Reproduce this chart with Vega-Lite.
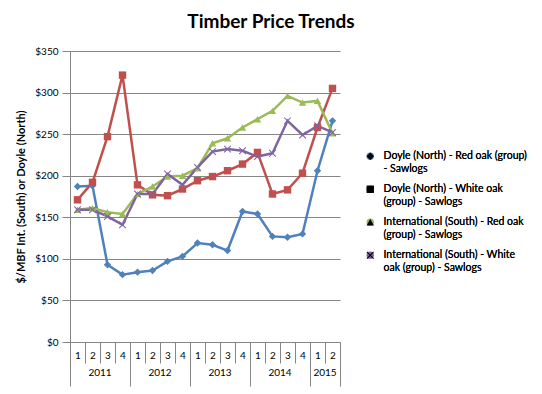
{
  "$schema": "https://vega.github.io/schema/vega-lite/v6.json",
  "width": 270,
  "height": 291,
  "autosize": {"type": "none"},
  "padding": {"left": 70, "top": 51, "right": 202, "bottom": 52},
  "title": {"text": "Timber Price Trends", "anchor": "middle", "frame": "group", "dx": 66, "font": "Lato", "fontSize": 19, "fontWeight": "bold", "color": "#000000", "offset": 14},
  "data": {"values": [
    {"q": "2011-1", "series": "Doyle (North) - Red oak (group) - Sawlogs", "price": 187},
    {"q": "2011-2", "series": "Doyle (North) - Red oak (group) - Sawlogs", "price": 188},
    {"q": "2011-3", "series": "Doyle (North) - Red oak (group) - Sawlogs", "price": 93},
    {"q": "2011-4", "series": "Doyle (North) - Red oak (group) - Sawlogs", "price": 81},
    {"q": "2012-1", "series": "Doyle (North) - Red oak (group) - Sawlogs", "price": 84},
    {"q": "2012-2", "series": "Doyle (North) - Red oak (group) - Sawlogs", "price": 86},
    {"q": "2012-3", "series": "Doyle (North) - Red oak (group) - Sawlogs", "price": 97},
    {"q": "2012-4", "series": "Doyle (North) - Red oak (group) - Sawlogs", "price": 103},
    {"q": "2013-1", "series": "Doyle (North) - Red oak (group) - Sawlogs", "price": 119},
    {"q": "2013-2", "series": "Doyle (North) - Red oak (group) - Sawlogs", "price": 117},
    {"q": "2013-3", "series": "Doyle (North) - Red oak (group) - Sawlogs", "price": 110},
    {"q": "2013-4", "series": "Doyle (North) - Red oak (group) - Sawlogs", "price": 157},
    {"q": "2014-1", "series": "Doyle (North) - Red oak (group) - Sawlogs", "price": 154},
    {"q": "2014-2", "series": "Doyle (North) - Red oak (group) - Sawlogs", "price": 127},
    {"q": "2014-3", "series": "Doyle (North) - Red oak (group) - Sawlogs", "price": 126},
    {"q": "2014-4", "series": "Doyle (North) - Red oak (group) - Sawlogs", "price": 130},
    {"q": "2015-1", "series": "Doyle (North) - Red oak (group) - Sawlogs", "price": 206},
    {"q": "2015-2", "series": "Doyle (North) - Red oak (group) - Sawlogs", "price": 266},
    {"q": "2011-1", "series": "Doyle (North) - White oak (group) - Sawlogs", "price": 171},
    {"q": "2011-2", "series": "Doyle (North) - White oak (group) - Sawlogs", "price": 192},
    {"q": "2011-3", "series": "Doyle (North) - White oak (group) - Sawlogs", "price": 247},
    {"q": "2011-4", "series": "Doyle (North) - White oak (group) - Sawlogs", "price": 321},
    {"q": "2012-1", "series": "Doyle (North) - White oak (group) - Sawlogs", "price": 189},
    {"q": "2012-2", "series": "Doyle (North) - White oak (group) - Sawlogs", "price": 177},
    {"q": "2012-3", "series": "Doyle (North) - White oak (group) - Sawlogs", "price": 176},
    {"q": "2012-4", "series": "Doyle (North) - White oak (group) - Sawlogs", "price": 184},
    {"q": "2013-1", "series": "Doyle (North) - White oak (group) - Sawlogs", "price": 194},
    {"q": "2013-2", "series": "Doyle (North) - White oak (group) - Sawlogs", "price": 199},
    {"q": "2013-3", "series": "Doyle (North) - White oak (group) - Sawlogs", "price": 206},
    {"q": "2013-4", "series": "Doyle (North) - White oak (group) - Sawlogs", "price": 214},
    {"q": "2014-1", "series": "Doyle (North) - White oak (group) - Sawlogs", "price": 228},
    {"q": "2014-2", "series": "Doyle (North) - White oak (group) - Sawlogs", "price": 178},
    {"q": "2014-3", "series": "Doyle (North) - White oak (group) - Sawlogs", "price": 183},
    {"q": "2014-4", "series": "Doyle (North) - White oak (group) - Sawlogs", "price": 203},
    {"q": "2015-1", "series": "Doyle (North) - White oak (group) - Sawlogs", "price": 258},
    {"q": "2015-2", "series": "Doyle (North) - White oak (group) - Sawlogs", "price": 305},
    {"q": "2011-1", "series": "International (South) - Red oak (group) - Sawlogs", "price": 159},
    {"q": "2011-2", "series": "International (South) - Red oak (group) - Sawlogs", "price": 161},
    {"q": "2011-3", "series": "International (South) - Red oak (group) - Sawlogs", "price": 156},
    {"q": "2011-4", "series": "International (South) - Red oak (group) - Sawlogs", "price": 154},
    {"q": "2012-1", "series": "International (South) - Red oak (group) - Sawlogs", "price": 178},
    {"q": "2012-2", "series": "International (South) - Red oak (group) - Sawlogs", "price": 187},
    {"q": "2012-3", "series": "International (South) - Red oak (group) - Sawlogs", "price": 199},
    {"q": "2012-4", "series": "International (South) - Red oak (group) - Sawlogs", "price": 200},
    {"q": "2013-1", "series": "International (South) - Red oak (group) - Sawlogs", "price": 209},
    {"q": "2013-2", "series": "International (South) - Red oak (group) - Sawlogs", "price": 239},
    {"q": "2013-3", "series": "International (South) - Red oak (group) - Sawlogs", "price": 245},
    {"q": "2013-4", "series": "International (South) - Red oak (group) - Sawlogs", "price": 258},
    {"q": "2014-1", "series": "International (South) - Red oak (group) - Sawlogs", "price": 268},
    {"q": "2014-2", "series": "International (South) - Red oak (group) - Sawlogs", "price": 278},
    {"q": "2014-3", "series": "International (South) - Red oak (group) - Sawlogs", "price": 296},
    {"q": "2014-4", "series": "International (South) - Red oak (group) - Sawlogs", "price": 288},
    {"q": "2015-1", "series": "International (South) - Red oak (group) - Sawlogs", "price": 290},
    {"q": "2015-2", "series": "International (South) - Red oak (group) - Sawlogs", "price": 251},
    {"q": "2011-1", "series": "International (South) - White oak (group) - Sawlogs", "price": 159},
    {"q": "2011-2", "series": "International (South) - White oak (group) - Sawlogs", "price": 159},
    {"q": "2011-3", "series": "International (South) - White oak (group) - Sawlogs", "price": 151},
    {"q": "2011-4", "series": "International (South) - White oak (group) - Sawlogs", "price": 141},
    {"q": "2012-1", "series": "International (South) - White oak (group) - Sawlogs", "price": 178},
    {"q": "2012-2", "series": "International (South) - White oak (group) - Sawlogs", "price": 178},
    {"q": "2012-3", "series": "International (South) - White oak (group) - Sawlogs", "price": 202},
    {"q": "2012-4", "series": "International (South) - White oak (group) - Sawlogs", "price": 189},
    {"q": "2013-1", "series": "International (South) - White oak (group) - Sawlogs", "price": 210},
    {"q": "2013-2", "series": "International (South) - White oak (group) - Sawlogs", "price": 229},
    {"q": "2013-3", "series": "International (South) - White oak (group) - Sawlogs", "price": 232},
    {"q": "2013-4", "series": "International (South) - White oak (group) - Sawlogs", "price": 230},
    {"q": "2014-1", "series": "International (South) - White oak (group) - Sawlogs", "price": 223},
    {"q": "2014-2", "series": "International (South) - White oak (group) - Sawlogs", "price": 227},
    {"q": "2014-3", "series": "International (South) - White oak (group) - Sawlogs", "price": 266},
    {"q": "2014-4", "series": "International (South) - White oak (group) - Sawlogs", "price": 249},
    {"q": "2015-1", "series": "International (South) - White oak (group) - Sawlogs", "price": 260},
    {"q": "2015-2", "series": "International (South) - White oak (group) - Sawlogs", "price": 252}
  ]},
  "layer": [
    {
      "mark": {"type": "line", "strokeWidth": 2.5},
      "encoding": {
        "x": {"field": "q", "type": "ordinal", "bandPosition": 0.5,
          "scale": {"type": "band", "paddingInner": 0, "paddingOuter": 0},
          "axis": {"orient": "bottom", "title": null, "tickBand": "extent", "grid": false, "tickSize": 21,
            "tickColor": "#868686", "domainColor": "#868686", "labelExpr": "isString(datum.value) ? slice(datum.value, 5) : ''", "labelAngle": 0,
            "labelBaseline": "middle", "labelPadding": -7.5, "labelFont": "Lato", "labelFontSize": 10, "labelColor": "#000000",
            "labelOverlap": false, "labelFlush": false, "labelBound": false}},
        "y": {"field": "price", "type": "quantitative", "scale": {"domain": [0, 350]},
          "axis": {"title": "$/MBF Int. (South) or Doyle (North)", "values": [0, 50, 100, 150, 200, 250, 300, 350], "format": "$.0f",
            "grid": true, "gridColor": "#868686", "domainColor": "#868686", "tickColor": "#868686", "tickSize": 8, "labelPadding": 4,
            "labelFont": "Lato", "labelFontSize": 10, "labelColor": "#000000", "titleFont": "Lato", "titleFontSize": 11, "titleFontWeight": "bold",
            "titleColor": "#000000", "titleX": -49, "titleY": 145.5, "titleAngle": 270, "titleAlign": "center", "titleBaseline": "middle"}},
        "color": {"field": "series", "type": "nominal",
          "scale": {"range": ["#4F81BD", "#C0504D", "#9BBB59", "#8064A2"]}}
      }
    },
    {
      "mark": {"type": "point", "filled": true, "size": 55, "opacity": 1},
      "encoding": {
        "x": {"field": "q", "type": "ordinal", "bandPosition": 0.5,
          "scale": {"type": "band", "paddingInner": 0, "paddingOuter": 0},
          "axis": {"orient": "bottom", "title": null, "values": ["2011-1", "2011-4", "2012-4", "2013-4", "2014-4", "2015-2"], "tickBand": "extent",
            "domain": false, "labels": false, "grid": false, "tickSize": 44, "tickColor": "#868686",
            "tickOpacity": {"condition": {"test": "datum.value == '2011-1'", "value": 0}, "value": 1}}},
        "y": {"field": "price", "type": "quantitative", "scale": {"domain": [0, 350]}},
        "color": {"field": "series", "type": "nominal",
          "scale": {"range": ["#4F81BD", "#C0504D", "#9BBB59", "#8064A2"]},
          "legend": {"title": null, "orient": "none", "legendX": 295, "legendY": 100, "padding": 0, "rowPadding": 9,
            "labelFont": "Lato", "labelFontSize": 10.5, "labelColor": "#000000", "labelLimit": 250, "labelOffset": 8, "symbolSize": 55, "symbolStrokeWidth": 0,
            "labelExpr": "datum.label == 'Doyle (North) - Red oak (group) - Sawlogs' ? ['Doyle (North) - Red oak (group)', '- Sawlogs'] : datum.label == 'Doyle (North) - White oak (group) - Sawlogs' ? ['Doyle (North) - White oak', '(group) - Sawlogs'] : datum.label == 'International (South) - Red oak (group) - Sawlogs' ? ['International (South) - Red oak', '(group) - Sawlogs'] : ['International (South) - White', 'oak (group) - Sawlogs']"}},
        "shape": {"field": "series", "type": "nominal",
          "scale": {"range": ["diamond", "square", "triangle-up", "M-1,-0.8L-0.8,-1L0,-0.2L0.8,-1L1,-0.8L0.2,0L1,0.8L0.8,1L0,0.2L-0.8,1L-1,0.8L-0.2,0Z"]},
          "legend": {"title": null, "orient": "none", "legendX": 295, "legendY": 100, "padding": 0, "rowPadding": 9,
            "labelFont": "Lato", "labelFontSize": 10.5, "labelColor": "#000000", "labelLimit": 250, "labelOffset": 8, "symbolSize": 55, "symbolStrokeWidth": 0,
            "labelExpr": "datum.label == 'Doyle (North) - Red oak (group) - Sawlogs' ? ['Doyle (North) - Red oak (group)', '- Sawlogs'] : datum.label == 'Doyle (North) - White oak (group) - Sawlogs' ? ['Doyle (North) - White oak', '(group) - Sawlogs'] : datum.label == 'International (South) - Red oak (group) - Sawlogs' ? ['International (South) - Red oak', '(group) - Sawlogs'] : ['International (South) - White', 'oak (group) - Sawlogs']"}}
      }
    },
    {
      "mark": {"type": "point", "opacity": 0},
      "encoding": {
        "x": {"field": "q", "type": "ordinal", "bandPosition": 0.5,
          "scale": {"type": "band", "paddingInner": 0, "paddingOuter": 0},
          "axis": {"orient": "bottom", "title": null, "values": ["2011-2", "2012-2", "2013-2", "2014-2", "2015-1"], "domain": false, "ticks": false, "grid": false,
            "labelExpr": "isString(datum.value) ? slice(datum.value, 0, 4) : ''", "labelOffset": 7.5, "labelAngle": 0, "labelBaseline": "middle", "labelPadding": 30.5,
            "labelFont": "Lato", "labelFontSize": 10, "labelColor": "#000000", "labelOverlap": false, "labelFlush": false, "labelBound": false}},
        "y": {"field": "price", "type": "quantitative", "scale": {"domain": [0, 350]}}
      }
    }
  ],
  "resolve": {"axis": {"x": "independent"}},
  "config": {
    "font": "Lato",
    "view": {"stroke": null},
    "background": "#ffffff"
  }
}
